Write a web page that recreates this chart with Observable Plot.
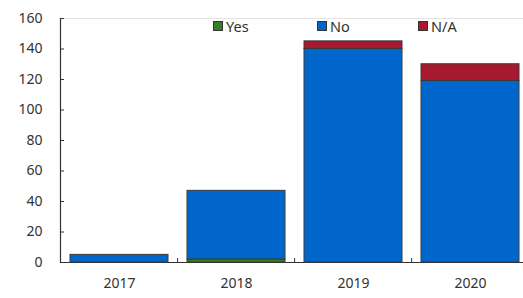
<!DOCTYPE html>
<html>
<head>
<meta charset="utf-8">
<script src="https://cdn.jsdelivr.net/npm/d3@7"></script>
<script src="https://cdn.jsdelivr.net/npm/@observablehq/plot@0.6"></script>
<style>
  html, body { margin: 0; padding: 0; background: #fff; }
  #wrap { position: relative; width: 523px; height: 298px; font-family: "Noto Sans", "Open Sans", sans-serif; }
  #legend { position: absolute; top: 0; left: 0; width: 523px; height: 0; }
  .item { position: absolute; top: 16px; display: flex; align-items: center; font-size: 14.5px; color: #333; line-height: 20px; }
  .sw { width: 8px; height: 8px; border: 1px solid #333; margin-right: 3px; }
</style>
</head>
<body>
<div id="wrap"><div id="legend"></div></div>
<script>
const years = ["2017", "2018", "2019", "2020"];
const series = ["Yes", "No", "N/A"];
const colors = ["#3a7d22", "#0066cc", "#a6192e"];
const yesValues = [0, 2, 0, 0];
const noValues = [5, 45, 140, 119];
const naValues = [0, 0, 5, 11];
const yTicks = [0, 20, 40, 60, 80, 100, 120, 140, 160];

const valuesBySeries = {"Yes": yesValues, "No": noValues, "N/A": naValues};
const table = [];
for (const s of series) {
  years.forEach((yr, i) => table.push({year: yr, series: s, value: valuesBySeries[s][i]}));
}

const chart = Plot.plot({
  width: 523,
  height: 298,
  marginTop: 18,
  marginBottom: 36,
  marginLeft: 60,
  marginRight: 0,
  style: {fontFamily: '"Noto Sans", "Open Sans", sans-serif', fontSize: "14px", color: "#333", background: "#fff"},
  x: {domain: years, range: [59, 530], paddingInner: 0.16, paddingOuter: 0.08, label: null},
  y: {domain: [0, 160], label: null},
  color: {domain: series, range: colors},
  marks: [
    Plot.ruleY([160], {stroke: "#e3e3e3"}),
    Plot.barY(table, {x: "year", y: "value", fill: "series", stroke: "#3a3a3a", strokeWidth: 1, order: series}),
    Plot.ruleY([0], {stroke: "#333", strokeWidth: 1.2}),
    Plot.frame({anchor: "left", stroke: "#333", strokeWidth: 1.2}),
    Plot.tickY(yTicks, {y: d => d, stroke: "#333", insetRight: 459}),
    Plot.ruleX(years.slice(1), {x: d => d, dx: -58.9, insetTop: 240, stroke: "#333"}),
    Plot.axisY(yTicks, {tickSize: 0, tickPadding: 18, fontSize: 14, label: null}),
    Plot.axisX({tickSize: 0, tickPadding: 16, fontSize: 14, label: null})
  ]
});
document.getElementById("wrap").appendChild(chart);

const legendX = [213, 317, 418];
const legend = document.getElementById("legend");
series.forEach((s, i) => {
  const it = document.createElement("div");
  it.className = "item";
  it.style.left = legendX[i] + "px";
  const sw = document.createElement("span");
  sw.className = "sw";
  sw.style.background = colors[i];
  const t = document.createElement("span");
  t.textContent = s;
  it.appendChild(sw);
  it.appendChild(t);
  legend.appendChild(it);
});
</script>
</body>
</html>
